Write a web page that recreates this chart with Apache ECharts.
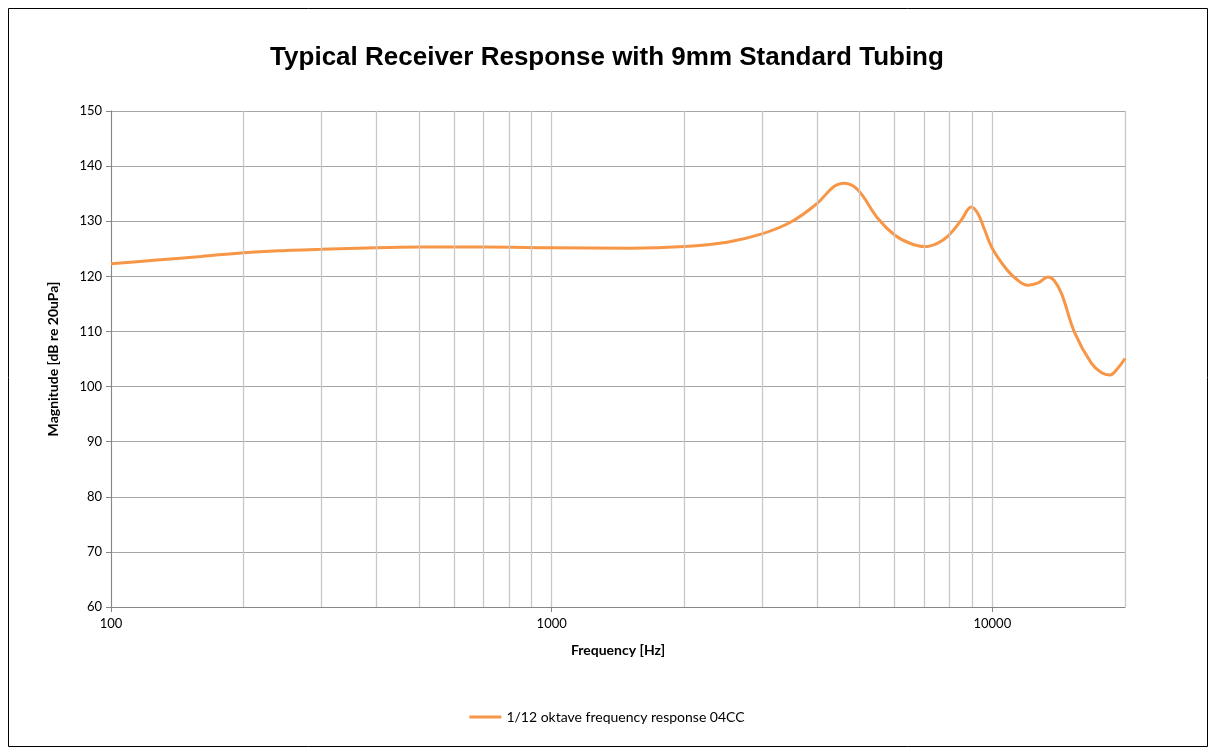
<!DOCTYPE html>
<html><head><meta charset="utf-8">
<script src="https://cdn.jsdelivr.net/npm/echarts@6/dist/echarts.min.js"></script>
<style>html,body{margin:0;padding:0;background:#fff}#c{width:1214px;height:754px}</style>
</head><body><div id="c"></div>
<script>
const freqs = [100,125,160,200,250,300,400,500,700,1000,1500,2000,2500,3000,3500,4000,4370,4620,4950,5500,6000,6500,7020,7500,7930,8500,8960,9270,9600,9980,10670,11300,12050,12700,13380,13800,14350,15390,16790,17700,18480,19200,20000];
const magnitudes = [122.3,122.9,123.6,124.3,124.7,124.9,125.2,125.3,125.3,125.2,125.1,125.4,126.2,127.7,129.9,133.2,136.3,136.9,135.7,130.5,127.5,126.0,125.4,126.0,127.3,130.2,132.6,131.4,128.5,125.2,121.7,119.6,118.4,118.8,119.9,119.3,116.9,109.7,104.2,102.5,102.1,103.2,105.1];
const minorGridFreqs = [200,300,400,500,600,700,800,900,2000,3000,4000,5000,6000,7000,8000,9000];
const yTicks = [60,70,80,90,100,110,120,130,140,150];
const seriesName = '1/12 oktave frequency response 04CC';

const chart = echarts.init(document.getElementById('c'), null, {renderer:'canvas'});
const font = 'Lato, "Open Sans", "Liberation Sans", sans-serif';
chart.setOption({
  animation:false,
  title:{text:'Typical Receiver Response with 9mm Standard Tubing', left:'center', top:40,
    textStyle:{fontFamily:'"Liberation Sans", Arial, sans-serif', fontSize:26, fontWeight:'bold', color:'#000'}},
  graphic:[{type:'rect', shape:{x:8.5,y:8.5,width:1199,height:738}, style:{fill:null, stroke:'#000', lineWidth:1}, silent:true}],
  legend:{bottom:25, left:'center', itemWidth:32, itemHeight:3, icon:'rect', itemGap:4,
    textStyle:{fontFamily:font, fontSize:14, color:'#000'}, data:[seriesName]},
  grid:{left:111, top:111, right:89, bottom:147},
  xAxis:{type:'log', logBase:10, min:100, max:20000,
    name:'Frequency [Hz]', nameLocation:'middle', nameGap:36,
    nameTextStyle:{fontFamily:font, fontSize:14, fontWeight:'bold', color:'#000'},
    axisLine:{lineStyle:{color:'#868686', width:1}},
    axisTick:{show:true, length:5, lineStyle:{color:'#868686'}},
    axisLabel:{fontFamily:font, fontSize:13, color:'#000', margin:10, showMaxLabel:false,
      formatter:v=>String(Math.round(v))},
    splitLine:{show:true, lineStyle:{color:'#c8c8c8', width:1.3}}},
  yAxis:{type:'value', min:60, max:150, interval:10,
    name:'Magnitude [dB re 20uPa]', nameLocation:'middle', nameGap:51,
    nameTextStyle:{fontFamily:font, fontSize:14, fontWeight:'bold', color:'#000'},
    axisLine:{show:true, lineStyle:{color:'#868686', width:1}},
    axisTick:{show:true, length:5, lineStyle:{color:'#868686'}},
    axisLabel:{fontFamily:font, fontSize:13, color:'#000', margin:9},
    splitLine:{show:true, lineStyle:{color:'#a6a6a6', width:1}}},
  series:[{
    name:seriesName, type:'line', smooth:0.4, showSymbol:false, symbol:'none',
    lineStyle:{color:'#f79646', width:3}, itemStyle:{color:'#f79646'},
    data:freqs.map((f,i)=>[f,magnitudes[i]]),
    markLine:{silent:true, symbol:'none', label:{show:false}, animation:false,
      lineStyle:{color:'#c8c8c8', width:1.3, type:'solid'},
      data:minorGridFreqs.map(f=>({xAxis:f}))},
    z:3
  }]
});
</script></body></html>
